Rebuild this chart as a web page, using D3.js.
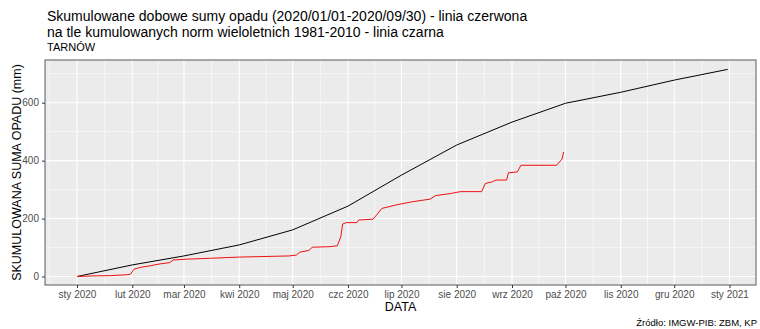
<!DOCTYPE html>
<html>
<head>
<meta charset="utf-8">
<script src="https://cdn.jsdelivr.net/npm/d3@7"></script>
<style>
  body { margin: 0; background: #fff; }
  svg { display: block; }
  text { font-family: "Liberation Sans", Arial, Helvetica, sans-serif; }
</style>
</head>
<body>
<svg id="chart" width="760" height="329"></svg>
<script>
// Month breaks on the date axis and their Polish labels
const monthTicks = ["2020-01-01","2020-02-01","2020-03-01","2020-04-01","2020-05-01","2020-06-01",
  "2020-07-01","2020-08-01","2020-09-01","2020-10-01","2020-11-01","2020-12-01","2021-01-01"];
const monthLabels = ["sty 2020","lut 2020","mar 2020","kwi 2020","maj 2020","czc 2020",
  "lip 2020","sie 2020","wrz 2020","paź 2020","lis 2020","gru 2020","sty 2021"];
const yTicks = [0, 200, 400, 600];

// Cumulative long-term norm 1981-2010 (mm)
const normDates = ["2020-01-01","2020-02-01","2020-03-01","2020-04-01","2020-05-01","2020-06-01",
  "2020-07-01","2020-08-01","2020-09-01","2020-10-01","2020-11-01","2020-12-01","2020-12-31"];
const normValues = [0, 40, 71, 109, 161, 243, 350, 454, 533, 598, 636, 678, 715];

// Cumulative daily precipitation 2020 (mm)
const obsDates = ["2020-01-01","2020-01-10","2020-01-20","2020-01-29","2020-01-31","2020-02-02",
  "2020-02-04","2020-02-07","2020-02-11","2020-02-16","2020-02-22","2020-02-24","2020-03-03",
  "2020-03-16","2020-04-01","2020-04-29","2020-05-03","2020-05-05","2020-05-10","2020-05-12",
  "2020-05-22","2020-05-26","2020-05-28","2020-05-29","2020-05-31","2020-06-06","2020-06-07",
  "2020-06-15","2020-06-17","2020-06-20","2020-06-28","2020-07-07","2020-07-17","2020-07-20",
  "2020-07-29","2020-08-03","2020-08-15","2020-08-17","2020-08-21","2020-08-23","2020-08-29",
  "2020-08-30","2020-09-04","2020-09-06","2020-09-26","2020-09-29","2020-09-30"];
const obsValues = [0, 2, 3, 6, 8, 25,
  29, 33, 37, 43, 48, 57, 60,
  63, 67, 71, 74, 84, 90, 101,
  103, 106, 138, 181, 186, 186, 195,
  198, 212, 235, 247, 258, 267, 279,
  287, 293, 293, 321, 327, 333, 333,
  358, 361, 384, 384, 405, 430];

const parse = d3.utcParse("%Y-%m-%d");
const svg = d3.select("#chart");

const panel = { left: 45, right: 756, top: 60, bottom: 285 };

const x = d3.scaleUtc()
  .domain([parse("2020-01-01"), parse("2021-01-01")])
  .range([77, 729.5]);
const y = d3.scaleLinear()
  .domain([0, 600])
  .range([276.5, 102.7]);

// Panel background
svg.append("rect")
  .attr("x", panel.left).attr("y", panel.top)
  .attr("width", panel.right - panel.left).attr("height", panel.bottom - panel.top)
  .attr("fill", "#EBEBEB");

svg.append("clipPath").attr("id", "panel-clip")
  .append("rect")
  .attr("x", panel.left).attr("y", panel.top)
  .attr("width", panel.right - panel.left).attr("height", panel.bottom - panel.top);

const grid = svg.append("g").attr("clip-path", "url(#panel-clip)");

// Minor grid: midpoints between month breaks (extended one step at each end)
const tickDates = monthTicks.map(parse);
const ext = [d3.utcMonth.offset(tickDates[0], -1), ...tickDates, d3.utcMonth.offset(tickDates[tickDates.length - 1], 1)];
const minorX = [];
for (let i = 0; i < ext.length - 1; i++) {
  minorX.push(new Date((ext[i].getTime() + ext[i + 1].getTime()) / 2));
}
const minorY = [-100, 100, 300, 500, 700];

grid.selectAll(".minor-x").data(minorX).join("line")
  .attr("x1", d => x(d)).attr("x2", d => x(d))
  .attr("y1", panel.top).attr("y2", panel.bottom)
  .attr("stroke", "#fff").attr("stroke-width", 0.55);
grid.selectAll(".minor-y").data(minorY).join("line")
  .attr("x1", panel.left).attr("x2", panel.right)
  .attr("y1", d => y(d)).attr("y2", d => y(d))
  .attr("stroke", "#fff").attr("stroke-width", 0.55);

// Major grid
grid.selectAll(".major-x").data(tickDates).join("line")
  .attr("x1", d => x(d)).attr("x2", d => x(d))
  .attr("y1", panel.top).attr("y2", panel.bottom)
  .attr("stroke", "#fff").attr("stroke-width", 1.1);
grid.selectAll(".major-y").data(yTicks).join("line")
  .attr("x1", panel.left).attr("x2", panel.right)
  .attr("y1", d => y(d)).attr("y2", d => y(d))
  .attr("stroke", "#fff").attr("stroke-width", 1.1);

// Series lines
const line = d3.line().x(d => x(d[0])).y(d => y(d[1]));
const normData = normDates.map((d, i) => [parse(d), normValues[i]]);
const obsData = obsDates.map((d, i) => [parse(d), obsValues[i]]);

grid.append("path").datum(normData)
  .attr("d", line).attr("fill", "none")
  .attr("stroke", "#000").attr("stroke-width", 1);
grid.append("path").datum(obsData)
  .attr("d", line).attr("fill", "none")
  .attr("stroke", "#f01010").attr("stroke-width", 1);

// Panel border
svg.append("rect")
  .attr("x", panel.left).attr("y", panel.top)
  .attr("width", panel.right - panel.left).attr("height", panel.bottom - panel.top)
  .attr("fill", "none").attr("stroke", "#5a5a5a").attr("stroke-width", 1);

// Bottom axis
const xAxis = d3.axisBottom(x)
  .tickValues(tickDates)
  .tickFormat((d, i) => monthLabels[i])
  .tickSize(3).tickPadding(3);
const gx = svg.append("g").attr("transform", `translate(0,${panel.bottom})`).call(xAxis);
gx.select(".domain").remove();
gx.selectAll(".tick line").attr("stroke", "#333");
gx.selectAll(".tick text").attr("fill", "#4D4D4D").attr("font-size", 10)
  .attr("font-family", "'Liberation Sans', Arial, sans-serif");

// Left axis
const yAxis = d3.axisLeft(y).tickValues(yTicks).tickSize(3).tickPadding(3);
const gy = svg.append("g").attr("transform", `translate(${panel.left},0)`).call(yAxis);
gy.select(".domain").remove();
gy.selectAll(".tick line").attr("stroke", "#333");
gy.selectAll(".tick text").attr("fill", "#4D4D4D").attr("font-size", 10)
  .attr("font-family", "'Liberation Sans', Arial, sans-serif");

// Titles
svg.append("text").attr("x", 47).attr("y", 20.5).attr("font-size", 14).attr("fill", "#000")
  .text("Skumulowane dobowe sumy opadu (2020/01/01-2020/09/30) - linia czerwona");
svg.append("text").attr("x", 47).attr("y", 36.5).attr("font-size", 14).attr("fill", "#000")
  .text("na tle kumulowanych norm wieloletnich 1981-2010 - linia czarna");
svg.append("text").attr("x", 47).attr("y", 51).attr("font-size", 11).attr("fill", "#000")
  .text("TARNÓW");

// Axis titles
svg.append("text").attr("x", (panel.left + panel.right) / 2).attr("y", 311)
  .attr("text-anchor", "middle").attr("font-size", 12.5).attr("fill", "#000")
  .text("DATA");
svg.append("text")
  .attr("transform", `translate(21,${(panel.top + panel.bottom) / 2}) rotate(-90)`)
  .attr("text-anchor", "middle").attr("font-size", 12.5).attr("fill", "#000")
  .text("SKUMULOWANA SUMA OPADU (mm)");

// Caption
svg.append("text").attr("x", 757).attr("y", 326)
  .attr("text-anchor", "end").attr("font-size", 9.5).attr("fill", "#000")
  .text("Źródło: IMGW-PIB: ZBM, KP");
</script>
</body>
</html>
